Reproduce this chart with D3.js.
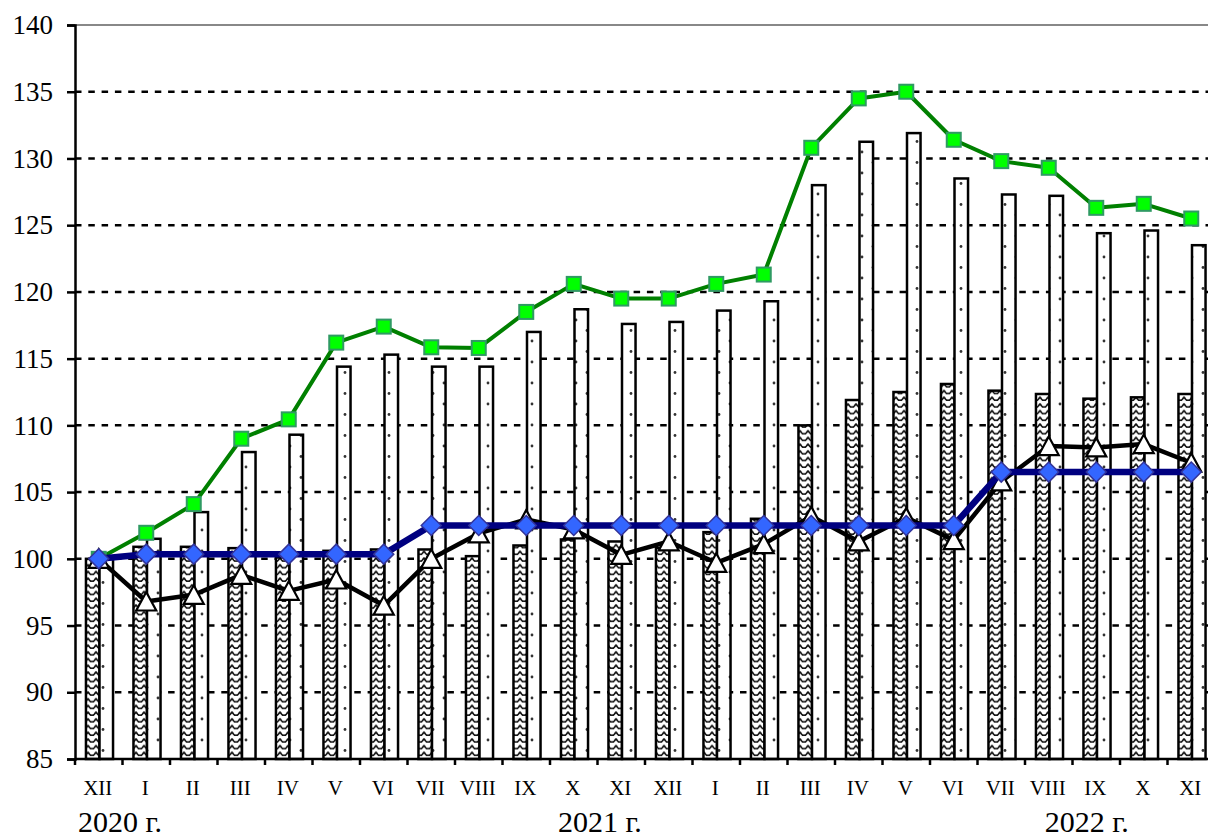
<!DOCTYPE html>
<html>
<head>
<meta charset="utf-8">
<script src="https://cdn.jsdelivr.net/npm/d3@7"></script>
<style>
  html, body { margin: 0; padding: 0; background: #fff; }
  svg { display: block; }
  text { font-family: "Liberation Serif", "Times New Roman", serif; fill: #000; }
</style>
</head>
<body>
<svg id="chart" width="1208" height="839"></svg>
<script>
// ---- data ----
const months = ["XII","I","II","III","IV","V","VI","VII","VIII","IX","X","XI",
                "XII","I","II","III","IV","V","VI","VII","VIII","IX","X","XI"];
const yearLabels = ["2020 г.", "2021 г.", "2022 г."];
const yTicks = [85, 90, 95, 100, 105, 110, 115, 120, 125, 130, 135, 140];

// hatched (wave-pattern) bars
const hatchedBars = [100, 100.9, 100.9, 100.8, 100.1, 100.6, 100.7, 100.7, 100.2, 101.0, 101.45, 101.3,
                     100.8, 102.0, 103.0, 110.0, 111.9, 112.5, 113.1, 112.6, 112.35, 112.0, 112.1, 112.35];
// dotted white bars
const dottedBars = [100, 101.5, 103.5, 108.0, 109.3, 114.4, 115.3, 114.4, 114.4, 117.0, 118.7, 117.6,
                    117.75, 118.6, 119.3, 128.0, 131.25, 131.9, 128.5, 127.3, 127.2, 124.4, 124.6, 123.5];
// green line with squares
const greenLine = [100, 101.95, 104.1, 109.0, 110.45, 116.2, 117.4, 115.85, 115.8, 118.5, 120.6, 119.5,
                   119.5, 120.6, 121.3, 130.8, 134.5, 135.0, 131.4, 129.8, 129.3, 126.3, 126.6, 125.5];
// navy line with diamonds
const blueLine = [100, 100.35, 100.35, 100.35, 100.35, 100.35, 100.35, 102.5, 102.5, 102.5, 102.5, 102.5,
                  102.5, 102.5, 102.5, 102.5, 102.5, 102.5, 102.5, 106.5, 106.5, 106.5, 106.5, 106.5];
// black line with white triangles
const blackLine = [100, 96.8, 97.3, 98.8, 97.6, 98.45, 96.5, 100.0, 101.9, 102.95, 102.2, 100.3,
                   101.3, 99.7, 101.1, 103.2, 101.3, 103.1, 101.4, 105.8, 108.45, 108.35, 108.6, 107.2];

// ---- drawing ----
(function () {
const svg = d3.select("#chart");
const pLeft = 75, pRight = 1215, pTop = 25, pBottom = 759;
const serif = '"Liberation Serif", "Times New Roman", serif';

const x = d3.scaleBand().domain(d3.range(months.length)).range([pLeft, pRight]).padding(0);
const y = d3.scaleLinear().domain([85, 140]).range([pBottom, pTop]);
const bw = x.bandwidth();
const barW = bw * 0.285;
const cx = i => x(i) + bw / 2;

const defs = svg.append("defs");
// wave pattern
const wave = defs.append("pattern").attr("id", "wave")
  .attr("patternUnits", "userSpaceOnUse").attr("width", 8).attr("height", 6.7);
wave.append("rect").attr("width", 8).attr("height", 6.7).attr("fill", "#fff");
wave.append("path").attr("d", "M0,1.5 C2,6.2 6,6.2 8,1.5")
  .attr("fill", "none").attr("stroke", "#111").attr("stroke-width", 1.6);
// dot pattern
const dots = defs.append("pattern").attr("id", "dots")
  .attr("patternUnits", "userSpaceOnUse").attr("width", 22).attr("height", 21);
dots.append("rect").attr("width", 22).attr("height", 21).attr("fill", "#fff");
dots.append("circle").attr("cx", 4).attr("cy", 5).attr("r", 1.4).attr("fill", "#333");
dots.append("circle").attr("cx", 15).attr("cy", 15.5).attr("r", 1.4).attr("fill", "#333");

// grid lines
const gridVals = yTicks.filter(v => v > 85 && v < 140);
svg.append("g").selectAll("line").data(gridVals).join("line")
  .attr("x1", pLeft).attr("x2", 1208)
  .attr("y1", d => y(d)).attr("y2", d => y(d))
  .attr("stroke", "#000").attr("stroke-width", 2.5).attr("stroke-dasharray", "6.5,6.8");
svg.append("line").attr("x1", pLeft).attr("x2", 1208)
  .attr("y1", y(140)).attr("y2", y(140))
  .attr("stroke", "#888").attr("stroke-width", 2);

// bars
const bars = svg.append("g");
bars.selectAll("rect.h").data(hatchedBars).join("rect").attr("class", "h")
  .attr("x", (d, i) => cx(i) + 0.75 - barW)
  .attr("y", d => y(d)).attr("width", barW).attr("height", d => y(85) - y(d))
  .attr("fill", "url(#wave)").attr("stroke", "#000").attr("stroke-width", 2.5);
bars.selectAll("rect.d").data(dottedBars).join("rect").attr("class", "d")
  .attr("x", (d, i) => cx(i) + 0.75)
  .attr("y", d => y(d)).attr("width", barW).attr("height", d => y(85) - y(d))
  .attr("fill", "url(#dots)").attr("stroke", "#000").attr("stroke-width", 2.5);

// axes
const yAxis = svg.append("g").attr("transform", `translate(${pLeft},0)`)
  .call(d3.axisLeft(y).tickValues(yTicks).tickSize(8).tickPadding(14).tickFormat(d3.format("d")));
yAxis.attr("font-family", null);
yAxis.select(".domain").attr("stroke", "#000").attr("stroke-width", 2.5);
yAxis.selectAll(".tick line").attr("stroke", "#000").attr("stroke-width", 2.5);
yAxis.selectAll("text").style("font-size", "27px").style("font-family", serif).attr("fill", "#000");

const xAxis = svg.append("g").attr("transform", `translate(0,${pBottom})`);
xAxis.append("line").attr("x1", pLeft).attr("x2", 1208).attr("y1", 0).attr("y2", 0)
  .attr("stroke", "#000").attr("stroke-width", 2.5);
xAxis.selectAll("line.t").data(d3.range(months.length + 1)).join("line").attr("class", "t")
  .attr("x1", i => pLeft + i * bw).attr("x2", i => pLeft + i * bw)
  .attr("y1", 0).attr("y2", 6).attr("stroke", "#000").attr("stroke-width", 2.5);
xAxis.selectAll("text").data(months).join("text")
  .attr("x", (d, i) => cx(i) - 1).attr("y", 36)
  .attr("text-anchor", "middle").style("font-size", "21px").style("font-family", serif).text(d => d);

// year labels (anchored at fractional category positions)
const yearPos = [[0.05, "start"], [11.05, "middle"], [21.3, "middle"]];
svg.append("g").selectAll("text").data(yearLabels).join("text")
  .attr("x", (d, i) => yearPos[i][1] === "start" ? x(0) + 3 : pLeft + yearPos[i][0] * bw)
  .attr("y", 832).attr("text-anchor", (d, i) => yearPos[i][1])
  .style("font-size", "30px").style("font-family", serif).text(d => d);

const lineGen = d3.line().x((d, i) => cx(i)).y(d => y(d));

// green line
svg.append("path").datum(greenLine).attr("d", lineGen)
  .attr("fill", "none").attr("stroke", "#008000").attr("stroke-width", 4).attr("stroke-linejoin", "round");
svg.append("g").selectAll("rect").data(greenLine).join("rect")
  .attr("x", (d, i) => cx(i) - 7).attr("y", d => y(d) - 7)
  .attr("width", 14).attr("height", 14)
  .attr("fill", "#00ff00").attr("stroke", "#2f9a63").attr("stroke-width", 2);

// black line with triangles
svg.append("path").datum(blackLine).attr("d", lineGen)
  .attr("fill", "none").attr("stroke", "#000").attr("stroke-width", 4.5).attr("stroke-linejoin", "round");
svg.append("g").selectAll("path").data(blackLine).join("path")
  .attr("d", (d, i) => {
    const px = cx(i), py = y(d);
    return `M${px},${py - 9.5}L${px + 10},${py + 9}L${px - 10},${py + 9}Z`;
  })
  .attr("fill", "#fff").attr("stroke", "#000").attr("stroke-width", 2.2);

// navy line with diamonds
svg.append("path").datum(blueLine).attr("d", lineGen)
  .attr("fill", "none").attr("stroke", "#000080").attr("stroke-width", 6.5).attr("stroke-linejoin", "round");
svg.append("g").selectAll("path").data(blueLine).join("path")
  .attr("d", (d, i) => {
    const px = cx(i), py = y(d);
    return `M${px},${py - 10}L${px + 10},${py}L${px},${py + 10}L${px - 10},${py}Z`;
  })
  .attr("fill", "#3366ff").attr("stroke", "#333399").attr("stroke-width", 1.5);
})();
</script>
</body>
</html>
